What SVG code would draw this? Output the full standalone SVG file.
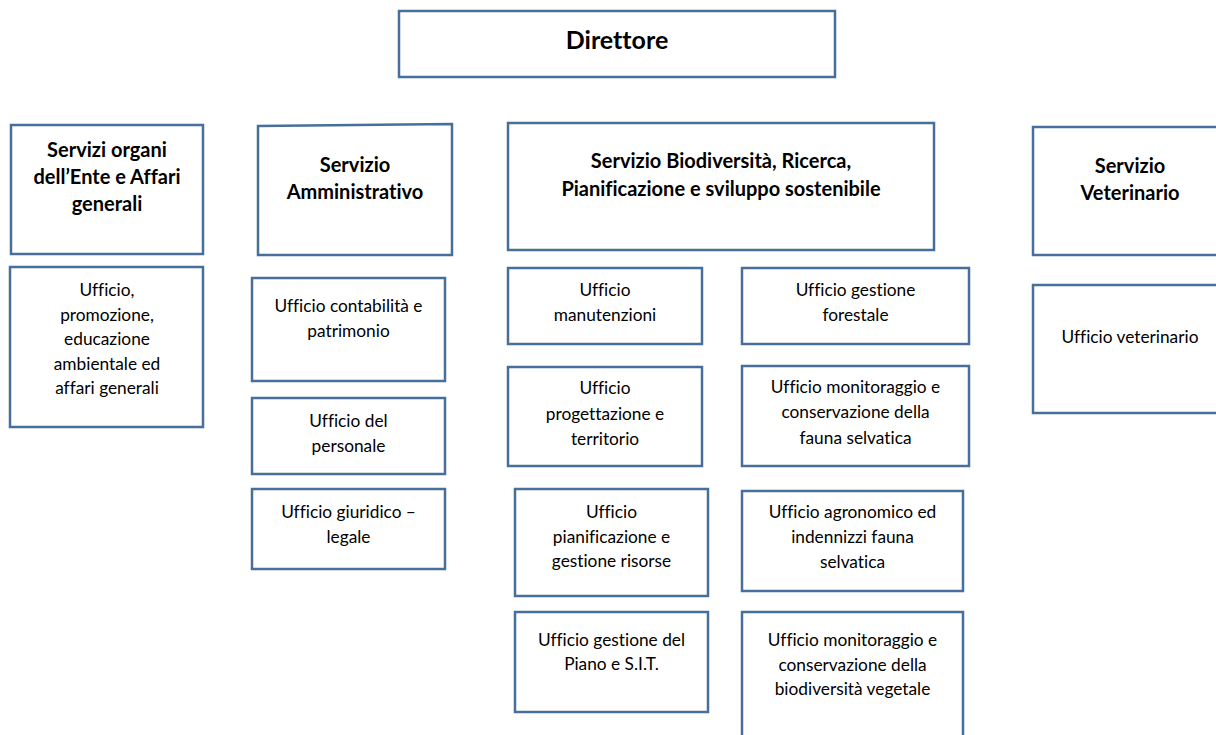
<svg xmlns="http://www.w3.org/2000/svg" width="1216" height="735" viewBox="0 0 1216 735">
<style>
rect{fill:#fff;stroke:#46709B;stroke-width:2.5}
text{font-family:Lato,"Liberation Sans",sans-serif;fill:#000;text-anchor:middle;font-size:17.3px;font-variant-ligatures:none}
.b{font-weight:bold;font-size:20px}
.d{font-weight:bold;font-size:25px}
</style>
<rect x="0" y="0" width="1216" height="735" style="fill:#fff;stroke:none"/>
<g id="direttore"><rect x="399" y="11" width="436" height="66"/><text class="d" x="617" y="49">Direttore</text></g>
<g id="servizi-organi"><rect x="11" y="125" width="192" height="129"/><text class="b" x="107" y="157">Servizi organi</text><text class="b" x="107" y="184">dell’Ente e Affari</text><text class="b" x="107" y="211">generali</text></g>
<g id="servizio-amministrativo"><polygon points="258,126 452,124 452,255 258,255" style="fill:#fff;stroke:#46709B;stroke-width:2.5"/><text class="b" x="355" y="172">Servizio</text><text class="b" x="355" y="199">Amministrativo</text></g>
<g id="servizio-biodiversita"><rect x="508" y="123" width="426" height="127"/><text class="b" x="721" y="168">Servizio Biodiversità, Ricerca,</text><text class="b" x="721" y="196">Pianificazione e sviluppo sostenibile</text></g>
<g id="servizio-veterinario"><rect x="1033" y="127" width="197" height="128"/><text class="b" x="1130" y="173">Servizio</text><text class="b" x="1130" y="200">Veterinario</text></g>
<g id="ufficio-promozione"><rect x="10" y="267" width="193" height="160"/><text x="107" y="296">Ufficio,</text><text x="107" y="321">promozione,</text><text x="107" y="345">educazione</text><text x="107" y="370">ambientale ed</text><text x="107" y="394">affari generali</text></g>
<g id="ufficio-contabilita"><rect x="252" y="278" width="193" height="103"/><text x="348.5" y="312">Ufficio contabilità e</text><text x="348.5" y="337">patrimonio</text></g>
<g id="ufficio-personale"><rect x="252" y="398" width="193" height="76"/><text x="348.5" y="427">Ufficio del</text><text x="348.5" y="452">personale</text></g>
<g id="ufficio-giuridico"><rect x="252" y="489" width="193" height="80"/><text x="348.5" y="518">Ufficio giuridico –</text><text x="348.5" y="543">legale</text></g>
<g id="ufficio-manutenzioni"><rect x="508" y="268" width="194" height="76"/><text x="605" y="296">Ufficio</text><text x="605" y="321">manutenzioni</text></g>
<g id="ufficio-forestale"><rect x="742" y="268" width="227" height="76"/><text x="855.5" y="296">Ufficio gestione</text><text x="855.5" y="321">forestale</text></g>
<g id="ufficio-progettazione"><rect x="508" y="367" width="194" height="99"/><text x="605" y="394">Ufficio</text><text x="605" y="420">progettazione e</text><text x="605" y="445">territorio</text></g>
<g id="ufficio-fauna"><rect x="742" y="366" width="227" height="100"/><text x="855.5" y="393">Ufficio monitoraggio e</text><text x="855.5" y="418">conservazione della</text><text x="855.5" y="444">fauna selvatica</text></g>
<g id="ufficio-pianificazione"><rect x="515" y="489" width="193" height="107"/><text x="611.5" y="518">Ufficio</text><text x="611.5" y="543">pianificazione e</text><text x="611.5" y="567">gestione risorse</text></g>
<g id="ufficio-agronomico"><rect x="742" y="491" width="221" height="100"/><text x="852.5" y="518">Ufficio agronomico ed</text><text x="852.5" y="543">indennizzi fauna</text><text x="852.5" y="568">selvatica</text></g>
<g id="ufficio-piano-sit"><rect x="515" y="612" width="193" height="100"/><text x="611.5" y="646">Ufficio gestione del</text><text x="611.5" y="670">Piano e S.I.T.</text></g>
<g id="ufficio-biodiversita-vegetale"><rect x="742" y="612" width="221" height="130"/><text x="852.5" y="646">Ufficio monitoraggio e</text><text x="852.5" y="671">conservazione della</text><text x="852.5" y="695">biodiversità vegetale</text></g>
<g id="ufficio-veterinario"><rect x="1033" y="285" width="197" height="128"/><text x="1130" y="343">Ufficio veterinario</text></g>
<g id="connectors"></g>
</svg>
